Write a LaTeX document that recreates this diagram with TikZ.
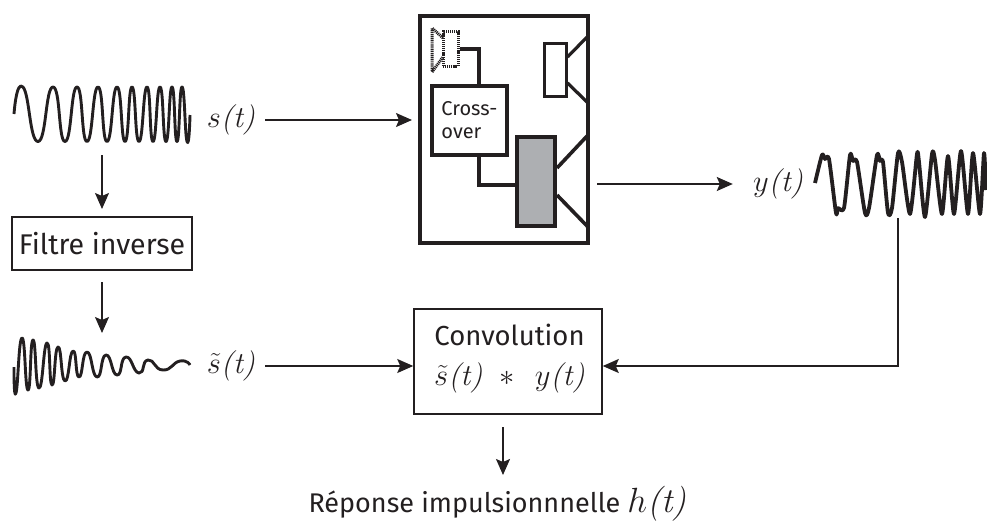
\RequirePackage{fix-cm}
\documentclass[tikz,border=0pt]{standalone}
\usepackage{fontspec}
\setsansfont{Fira Sans}
\usetikzlibrary{arrows.meta}
\definecolor{ink}{RGB}{35,31,32}
\definecolor{cone}{RGB}{173,175,178}
\newcommand{\lblfont}{\fontsize{30.5}{34}\selectfont}
\newcommand{\hfontsz}{\fontsize{35}{38}\selectfont}
\newcommand{\smallfont}{\fontsize{20}{23}\selectfont\sffamily}
\newcommand{\bigsans}{\fontsize{27.5}{30}\selectfont\sffamily}
\newcommand{\St}{$s$\textit{(t)}}
\newcommand{\Ts}{$\tilde{s}$\textit{(t)}}
\newcommand{\Yt}{$y$\textit{(t)}}
\tikzset{
 wave/.style={ink,line width=2.9,line join=round,smooth,tension=1},
 flow/.style={ink,line width=1.6,-{Stealth[length=16,width=14,inset=3]}},
 tbox/.style={draw=ink,line width=1.5,inner sep=0},
 spk/.style={draw=ink,line width=3.6},
 wire/.style={ink,line width=3.2},
 hatch/.style={draw=ink,line width=3,dash pattern=on 1.1 off 0.8},
 lbl/.style={text=ink,inner sep=0,font=\lblfont,minimum width=68,minimum height=34},
}
\begin{document}
\begin{tikzpicture}[x=1pt,y=-1pt]
\useasboundingbox (0,0) rectangle (987,520);
% speaker cabinet
\node[spk,line width=4,minimum width=168,minimum height=227,inner sep=0] (cab) at (504,129.5) {};
\node[spk,minimum width=75,minimum height=69,inner sep=0,text=ink,font=\smallfont,align=left] (xo) at (469.5,120.5) {Cross-\\over};
\node[spk,line width=3,minimum width=22,minimum height=53,inner sep=0] (tw) at (555,69.5) {};
\node[spk,line width=4,fill=cone,minimum width=38,minimum height=89,inner sep=0] (wf) at (536,181.5) {};
\node[hatch,minimum width=15,minimum height=35,inner sep=0] (dt) at (450.5,48.5) {};
\draw[hatch] (443,38) -- (432,28) -- (432,72) -- (443,57);
\coordinate (c1) at (588,36); \coordinate (c2) at (588,103);
\coordinate (c3) at (588,135); \coordinate (c4) at (588,227);
\coordinate (wx) at (479,0);
\draw[wire] (tw.east|-0,57) -- (c1);
\draw[wire] (tw.east|-0,83) -- (c2);
\draw[wire,line width=3.6] (wf.east|-0,168) -- (c3);
\draw[wire,line width=3.6] (wf.east|-0,195) -- (c4);
\draw[wire] (dt.east|-0,49) -| (wx|-xo.north);
\draw[wire] (wx|-xo.south) |- (wf.west|-0,185);
% other boxes
\node[tbox,minimum width=180,minimum height=53,text=ink,font=\fontsize{28.5}{30}\selectfont\sffamily] (fi) at (102,243.5) {Filtre inverse};
\node[tbox,minimum width=188,minimum height=105] (cv) at (508,361.5) {};
\node[text=ink,inner sep=0,font=\bigsans] (cvt) at (509.5,335) {Convolution};
\node[text=ink,inner sep=0,font=\lblfont] (cvf) at (509.5,378) {\Ts\hspace{17pt}$*$\hspace{20pt}\Yt};
% labels
\node[lbl] (st) at (231,120) {\St};
\node[lbl] (ts) at (231,366) {\Ts};
\node[lbl,minimum width=90] (yt) at (778,184) {\Yt};
\node[text=ink,inner sep=0,anchor=base,font=\fontsize{27}{30}\selectfont\sffamily] (hr) at (497.5,512) {Réponse impulsionnnelle \rmfamily\hfontsz $h$\textit{(t)}};
% waves
\draw[wave] plot coordinates {(14,114) (23,87) (38,141.5) (53,87) (65,141.5) (77,87) (87,141.5) (98,87) (107,141.5) (117,87) (125,141.5) (132,87) (139,141.5) (147,87) (153,141.5) (160,87) (166,141.5) (172,87) (177,141.5) (182,87) (187,141.5) (190,115)};
\draw[wave] plot coordinates {(14,367) (16,393) (22,338) (28,390) (33,340) (39,388) (47,343) (52,385) (58,347) (65,381) (73,351) (79,377) (87,352) (97,377) (106,355) (117,375) (126,357) (139,373) (148,360) (163,370) (180,361) (190,365)};
\draw[wave,line width=3.8,tension=0.4] plot coordinates {(815,183) (822,155) (825,159) (829,159) (836,213) (838,208) (844,208) (850,155) (853,161) (857,162) (865,213) (869,208) (877,155) (880,161) (883,162) (888,213) (892,208) (898,153) (902,162) (910,214) (917,154) (919,162) (925,217) (932,154) (935,160) (942,214) (948,156) (954,214) (961,151) (968,214) (973,153) (980,214) (984,153) (986,190)};
% free ends
\coordinate (a) at (102,155);
\coordinate (b) at (102,282);
\coordinate (yd) at (898,218);
\coordinate (cab1) at (597,184);
\coordinate (cv1) at (503,427);
\coordinate (hh) at (503,475);
% connectors
\draw[flow] (a) -- (a|-0,209);
\draw[flow] (b) -- (b|-0,333);
\draw[flow,shorten >=6] (st.east) -- (st.east-|cab.west);
\draw[flow] (cab1) -- (yt.west);
\draw[flow] (ts.east) -- (ts.east-|cv.west);
\draw[flow] (yd) |- (cv.east|-0,366);
\draw[flow] (cv1) -- (hh);
\end{tikzpicture}
\end{document}
